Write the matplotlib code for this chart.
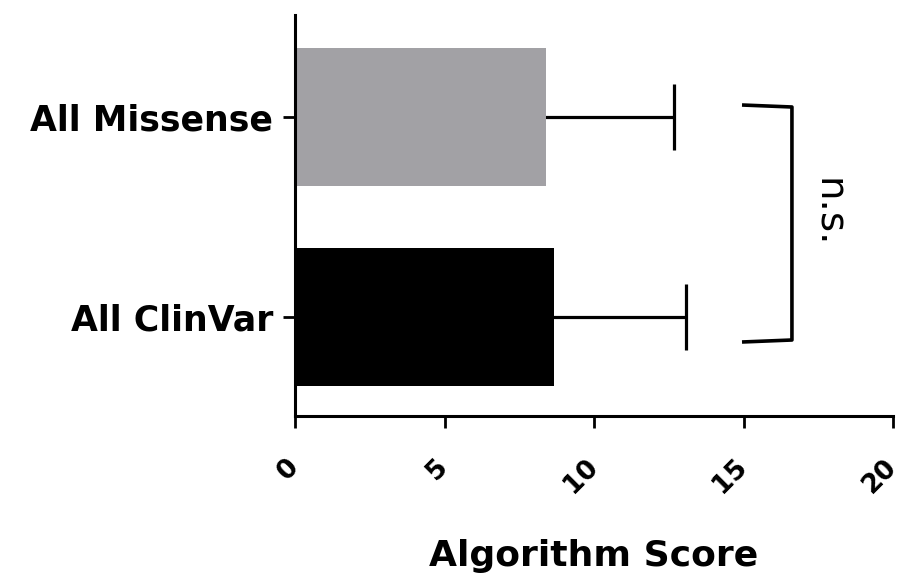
import matplotlib
matplotlib.use("Agg")
import matplotlib.pyplot as plt

# Data
categories = ["All ClinVar", "All Missense"]
means = [8.66, 8.39]
errors = [4.42, 4.29]
colors = ["#000000", "#a2a1a5"]
x_ticks = [0, 5, 10, 15, 20]
x_label = "Algorithm Score"
sig_label = "n.s."

fig = plt.figure(figsize=(9.01, 5.77), dpi=100)
ax = fig.add_axes([295/901, 1-416/577, 598/901, 401/577])

ypos = list(range(len(categories)))
ax.barh(ypos, means, height=0.69, color=colors, edgecolor="none", zorder=2)
# symmetric error bars drawn behind the bars so only the upper half shows
ax.errorbar(means, ypos, xerr=errors, fmt="none",
            ecolor="black", elinewidth=2.3, capsize=24, capthick=2.3, zorder=1)

ax.set_xlim(0, 20)
ax.set_ylim(-0.495, 1.51)
ax.set_xticks(x_ticks)
ax.set_xticklabels([str(t) for t in x_ticks], rotation=45, ha="right", va="center",
                   rotation_mode="anchor", fontsize=19, fontweight="bold")
ax.set_yticks(ypos)
ax.set_yticklabels(categories, fontsize=25, fontweight="bold")

for s in ["top", "right"]:
    ax.spines[s].set_visible(False)
for s in ["left", "bottom"]:
    ax.spines[s].set_linewidth(2.2)

ax.tick_params(axis="x", length=8.6, width=2.0, pad=25)
ax.tick_params(axis="y", length=8.6, width=2.0, pad=7)

ax.set_xlabel(x_label, fontsize=26, fontweight="bold")
ax.xaxis.label.set_va("baseline")
ax.xaxis.set_label_coords(0.5, -(566 - 416) / 401)

# significance bracket
bx0, bx1 = 14.95, 16.62
ytop, ybot = 1.055, -0.12
ax.plot([bx0, bx1, bx1, bx0], [ytop + 0.005, ytop - 0.005, ybot + 0.005, ybot - 0.005],
        color="black", lw=2.6, solid_joinstyle="round", solid_capstyle="butt",
        clip_on=False, zorder=3)
ax.text(17.83, 0.52, sig_label, rotation=270, ha="center", va="center",
        fontsize=28, color="black")

fig.savefig("out.png", dpi=100)
